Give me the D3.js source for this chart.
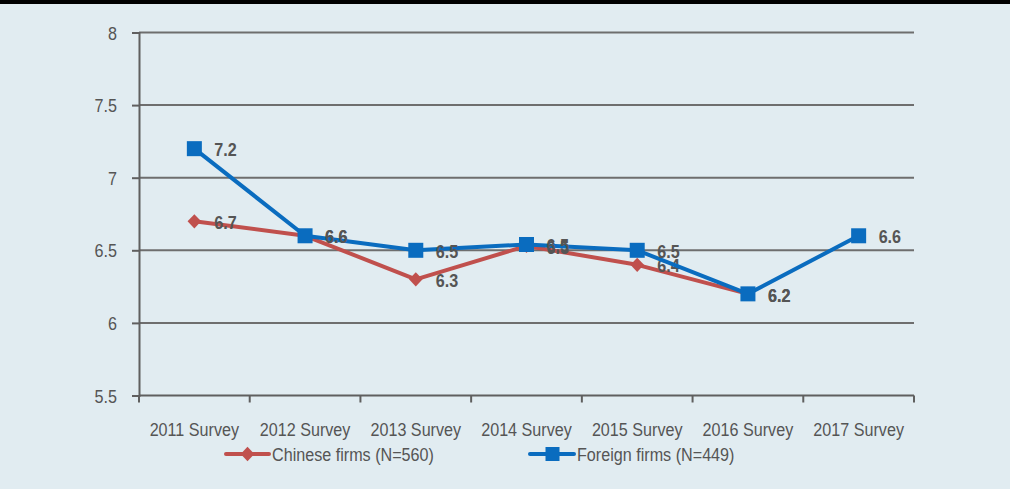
<!DOCTYPE html>
<html><head><meta charset="utf-8">
<script src="https://cdn.jsdelivr.net/npm/d3@7"></script>
<style>
html,body{margin:0;padding:0;background:#e1ecf1;}
svg{display:block;}
text{font-family:"Liberation Sans","Arial",sans-serif;}
</style></head>
<body><svg id="c" width="1010" height="489"></svg>
<script>
const categories = ["2011 Survey","2012 Survey","2013 Survey","2014 Survey","2015 Survey","2016 Survey","2017 Survey"];
const chineseValues = [6.7, 6.6, 6.3, 6.53, 6.4, 6.2, null];
const chineseLabels = ["6.7","6.6","6.3","6.5","6.4","6.2",null];
const foreignValues = [7.2, 6.6, 6.5, 6.54, 6.5, 6.2, 6.6];
const foreignLabels = ["7.2","6.6","6.5","6.5","6.5","6.2","6.6"];
const yTicks = [5.5, 6, 6.5, 7, 7.5, 8];
const yTickLabels = ["5.5","6","6.5","7","7.5","8"];
const seriesNames = ["Chinese firms (N=560)","Foreign firms (N=449)"];

const SX = 0.85; // horizontal condensing to mimic a condensed face
function condense(sel){
  sel.each(function(){
    const t = d3.select(this);
    const xx = +t.attr("x") || 0, yy = +t.attr("y") || 0;
    t.attr("x", 0).attr("y", 0).attr("transform", `translate(${xx},${yy}) scale(${SX},1)`);
  });
}

const svg = d3.select("#c");
svg.append("rect").attr("x",0).attr("y",0).attr("width",1010).attr("height",489).attr("fill","#e1ecf1");
svg.append("rect").attr("x",0).attr("y",0).attr("width",1010).attr("height",4).attr("fill","#000");

const L = 139, R = 914, T = 32.5, B = 395.5;
const x = d3.scaleBand().domain(categories).range([L, R]).padding(0);
const y = d3.scaleLinear().domain([5.5, 8]).range([B, T]);
const cx = c => x(c) + x.bandwidth()/2;

const axisColor = "#5f5f5f", textColor = "#555555";

// gridlines
svg.append("g").selectAll("line").data(yTicks.filter(t=>t>5.5)).join("line")
  .attr("x1", L).attr("x2", R).attr("y1", d=>y(d)).attr("y2", d=>y(d))
  .attr("stroke", "#6e6e6e").attr("stroke-width", 2);

// y axis
const yAxis = d3.axisLeft(y).tickValues(yTicks).tickFormat((d,i)=>yTickLabels[i]).tickSize(7).tickPadding(15);
const gy = svg.append("g").attr("transform", `translate(${L},0)`).call(yAxis);
gy.select(".domain").attr("stroke", axisColor).attr("stroke-width", 2);
gy.selectAll(".tick line").attr("stroke", axisColor).attr("stroke-width", 2);
gy.selectAll(".tick text").attr("fill", textColor).style("font-size","19px").attr("dy","0.35em").call(condense);

// x axis
const xAxis = d3.axisBottom(x).tickSize(0).tickPadding(27);
const gx = svg.append("g").attr("transform", `translate(0,${B})`).call(xAxis);
gx.select(".domain").remove();
gx.selectAll(".tick text").attr("fill", textColor).style("font-size","19px").call(condense);
svg.append("line").attr("x1", L).attr("x2", R).attr("y1", B).attr("y2", B).attr("stroke", axisColor).attr("stroke-width", 2);
const edges = categories.map(c => x(c)).concat([R]);
svg.append("g").selectAll("line").data(edges).join("line")
  .attr("x1", d=>d).attr("x2", d=>d).attr("y1", B).attr("y2", B+7)
  .attr("stroke", axisColor).attr("stroke-width", 2);

const red = "#c0504d", blue = "#0a6cbf";
const line = d3.line().defined(d=>d.v!=null).x(d=>cx(d.c)).y(d=>y(d.v));
const chinese = categories.map((c,i)=>({c, v:chineseValues[i], l:chineseLabels[i]}));
const foreign = categories.map((c,i)=>({c, v:foreignValues[i], l:foreignLabels[i]}));

const DS = 9.6; // diamond square side
// Chinese series
svg.append("path").datum(chinese).attr("d", line).attr("fill","none").attr("stroke", red).attr("stroke-width", 4).attr("stroke-linejoin","round");
svg.append("g").selectAll("rect").data(chinese.filter(d=>d.v!=null)).join("rect")
  .attr("x", -DS/2).attr("y", -DS/2).attr("width", DS).attr("height", DS)
  .attr("transform", d=>`translate(${cx(d.c)},${y(d.v)}) scale(1,1.05) rotate(45)`).attr("fill", red);
svg.append("g").selectAll("text").data(chinese.filter(d=>d.v!=null)).join("text")
  .attr("x", d=>cx(d.c)+20).attr("y", d=>y(d.v)+1).attr("dy","0.35em")
  .attr("fill", textColor).style("font-size","19px").style("font-weight","bold").text(d=>d.l).call(condense);

// Foreign series
svg.append("path").datum(foreign).attr("d", line).attr("fill","none").attr("stroke", blue).attr("stroke-width", 4).attr("stroke-linejoin","round");
svg.append("g").selectAll("rect").data(foreign).join("rect")
  .attr("x", d=>cx(d.c)-7.5).attr("y", d=>y(d.v)-7.5).attr("width",15).attr("height",15).attr("fill", blue);
svg.append("g").selectAll("text").data(foreign).join("text")
  .attr("x", d=>cx(d.c)+20).attr("y", d=>y(d.v)+1).attr("dy","0.35em")
  .attr("fill", textColor).style("font-size","19px").style("font-weight","bold").text(d=>d.l).call(condense);

// legend
const lg = svg.append("g");
const ly = 454;
lg.append("line").attr("x1",226).attr("x2",269).attr("y1",ly).attr("y2",ly).attr("stroke",red).attr("stroke-width",4).attr("stroke-linecap","round");
lg.append("rect").attr("x",-DS/2).attr("y",-DS/2).attr("width",DS).attr("height",DS).attr("transform",`translate(247.5,${ly}) scale(1,1.05) rotate(45)`).attr("fill",red);
lg.append("text").attr("x",272).attr("y",ly).attr("dy","0.35em").attr("fill",textColor).style("font-size","19px").text(seriesNames[0]).call(condense);
lg.append("line").attr("x1",530).attr("x2",574).attr("y1",ly).attr("y2",ly).attr("stroke",blue).attr("stroke-width",4).attr("stroke-linecap","round");
lg.append("rect").attr("x",545.5).attr("y",ly-7).attr("width",14).attr("height",14).attr("fill",blue);
lg.append("text").attr("x",577).attr("y",ly).attr("dy","0.35em").attr("fill",textColor).style("font-size","19px").text(seriesNames[1]).call(condense);
</script></body></html>
